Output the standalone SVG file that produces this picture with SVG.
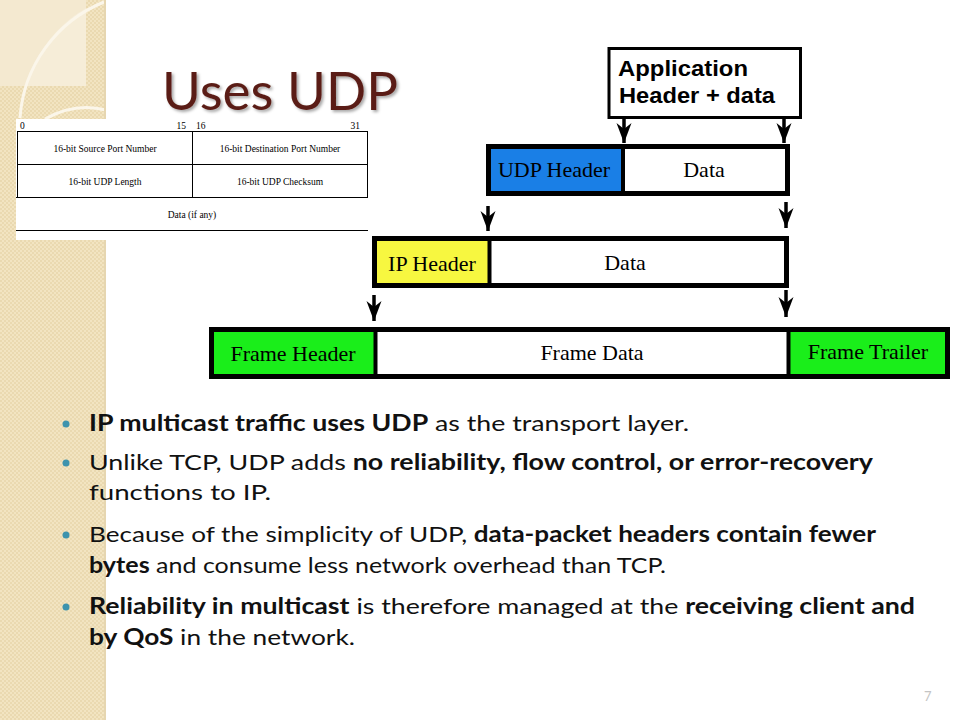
<svg xmlns="http://www.w3.org/2000/svg" width="960" height="720" viewBox="0 0 960 720">
<style>
.tbl{fill:none;stroke:#000;stroke-width:1}
.tt{font-family:"Liberation Serif",serif;font-size:9.5px;fill:#000}
.pk{stroke:#000;stroke-width:5}
.pl{font-family:"Liberation Serif",serif;font-size:22px;fill:#000;text-anchor:middle}
.bt{font-family:Lato,"Liberation Sans",sans-serif;font-size:22px;fill:#111}
.b{font-weight:bold}
.dot{fill:#3d93ad}
.conn{stroke:#000;stroke-width:3.5;fill:none;marker-end:url(#ah)}
</style>
<defs>
<pattern id="chk" width="4" height="4" patternUnits="userSpaceOnUse">
<rect width="4" height="4" fill="#f2e4c1"/>
<rect width="2" height="2" fill="#ead9b0"/>
<rect x="2" y="2" width="2" height="2" fill="#ead9b0"/>
</pattern>
<marker id="ah" markerUnits="userSpaceOnUse" markerWidth="22" markerHeight="18" viewBox="0 0 22 18" refX="21" refY="9" orient="auto">
<path d="M21 9 L1 1.5 L7 9 L1 16.5 Z" fill="#000"/>
</marker>
<filter id="sh" x="-10%" y="-20%" width="130%" height="150%">
<feDropShadow dx="2" dy="2" stdDeviation="1.5" flood-color="#000" flood-opacity="0.35"/>
</filter>
</defs>
<rect width="960" height="720" fill="#fff"/>
<g id="strip">
<rect x="0" y="0" width="106" height="720" fill="url(#chk)"/>
<rect x="0" y="0" width="86" height="86" fill="#f4e9d0"/>
<path d="M86 8 A 120 120 0 0 0 28 86 L 86 86 Z" fill="#f7eedb" opacity="0.7"/>
<path d="M104 2 A 135 135 0 0 0 20 118" fill="none" stroke="#fbf6ea" stroke-width="3"/>
<path d="M45 119 Q 75 102 106 110" fill="none" stroke="#fbf6ea" stroke-width="3"/>
<rect x="104" y="0" width="2" height="720" fill="#e6d6b0"/>
</g>
<g id="title">
<text x="162" y="110" font-family="Lato,'Open Sans',sans-serif" font-size="52" fill="#5a1c14" textLength="236" lengthAdjust="spacingAndGlyphs" filter="url(#sh)">Uses UDP</text>
</g>
<g id="udp-format">
<rect x="16" y="119" width="352" height="121" fill="#fff"/>
<text class="tt" x="20" y="129">0</text>
<text class="tt" x="186" y="129" text-anchor="end">15</text>
<text class="tt" x="196" y="129">16</text>
<text class="tt" x="360" y="129" text-anchor="end">31</text>
<path class="tbl" d="M17 131.5H368M17 164.5H368M16 197.5H368M16 230.5H368M17.5 131V197M192.5 131V197M367.5 131V197"/>
<text class="tt" x="105" y="152" text-anchor="middle">16-bit Source Port Number</text>
<text class="tt" x="280" y="152" text-anchor="middle">16-bit Destination Port Number</text>
<text class="tt" x="105" y="185" text-anchor="middle">16-bit UDP Length</text>
<text class="tt" x="280" y="185" text-anchor="middle">16-bit UDP Checksum</text>
<text class="tt" x="192" y="218" text-anchor="middle">Data (if any)</text>
</g>
<g id="app">
<rect x="609" y="48.5" width="191.5" height="69" fill="#fff" stroke="#000" stroke-width="3"/>
<text x="618" y="76" font-family="'Liberation Sans',Arial,sans-serif" font-weight="bold" font-size="22" textLength="130" lengthAdjust="spacingAndGlyphs">Application</text>
<text x="619" y="103" font-family="'Liberation Sans',Arial,sans-serif" font-weight="bold" font-size="22" textLength="156" lengthAdjust="spacingAndGlyphs">Header + data</text>
</g>
<g id="udp-packet">
<rect class="pk" x="488.5" y="146.5" width="299" height="47" fill="#fff"/>
<rect x="491" y="149" width="131" height="42" fill="#1a7fe6"/>
<line x1="623" y1="146" x2="623" y2="194" stroke="#000" stroke-width="4"/>
<text class="pl" x="554" y="177">UDP Header</text>
<text class="pl" x="704" y="177">Data</text>
</g>
<g id="ip-packet">
<rect class="pk" x="374.5" y="238.5" width="412" height="47" fill="#fff"/>
<rect x="377" y="241" width="111" height="42" fill="#f7f740"/>
<line x1="489.5" y1="238" x2="489.5" y2="286" stroke="#000" stroke-width="4"/>
<text class="pl" x="432" y="271">IP Header</text>
<text class="pl" x="625" y="270">Data</text>
</g>
<g id="frame">
<rect class="pk" x="211.5" y="329.5" width="736" height="47" fill="#fff"/>
<rect x="214" y="332" width="160" height="42" fill="#1aee1a"/>
<rect x="790" y="332" width="155" height="42" fill="#1aee1a"/>
<line x1="375.5" y1="329" x2="375.5" y2="377" stroke="#000" stroke-width="4"/>
<line x1="788.5" y1="329" x2="788.5" y2="377" stroke="#000" stroke-width="4"/>
<text class="pl" x="293" y="361">Frame Header</text>
<text class="pl" x="592" y="360">Frame Data</text>
<text class="pl" x="868" y="359">Frame Trailer</text>
</g>
<g id="connectors">
<line class="conn" x1="624" y1="118" x2="624" y2="143"/>
<line class="conn" x1="784" y1="118" x2="784" y2="143"/>
<line class="conn" x1="488" y1="206" x2="488" y2="231"/>
<line class="conn" x1="786" y1="202" x2="786" y2="228"/>
<line class="conn" x1="374" y1="295" x2="374" y2="321"/>
<line class="conn" x1="786" y1="290" x2="786" y2="317"/>
</g>
<g id="bullets">
<circle class="dot" cx="66" cy="424" r="3.5"/>
<circle class="dot" cx="66" cy="463" r="3.5"/>
<circle class="dot" cx="66" cy="535" r="3.5"/>
<circle class="dot" cx="66" cy="607" r="3.5"/>
<text class="bt" x="89" y="431" textLength="600" lengthAdjust="spacingAndGlyphs"><tspan class="b">IP multicast traffic uses UDP</tspan> as the transport layer.</text>
<text class="bt" x="89" y="470" textLength="784" lengthAdjust="spacingAndGlyphs">Unlike TCP, UDP adds <tspan class="b">no reliability, flow control, or error-recovery</tspan></text>
<text class="bt" x="89" y="500" textLength="182" lengthAdjust="spacingAndGlyphs">functions to IP.</text>
<text class="bt" x="89" y="542" textLength="787" lengthAdjust="spacingAndGlyphs">Because of the simplicity of UDP, <tspan class="b">data-packet headers contain fewer</tspan></text>
<text class="bt" x="89" y="573" textLength="577" lengthAdjust="spacingAndGlyphs"><tspan class="b">bytes</tspan> and consume less network overhead than TCP.</text>
<text class="bt" x="89" y="614" textLength="826" lengthAdjust="spacingAndGlyphs"><tspan class="b">Reliability in multicast</tspan> is therefore managed at the <tspan class="b">receiving client and</tspan></text>
<text class="bt" x="89" y="645" textLength="266" lengthAdjust="spacingAndGlyphs"><tspan class="b">by QoS</tspan> in the network.</text>
</g>
<text x="924" y="701" font-family="Lato,sans-serif" font-size="13" fill="#c4c4c4">7</text>
</svg>
